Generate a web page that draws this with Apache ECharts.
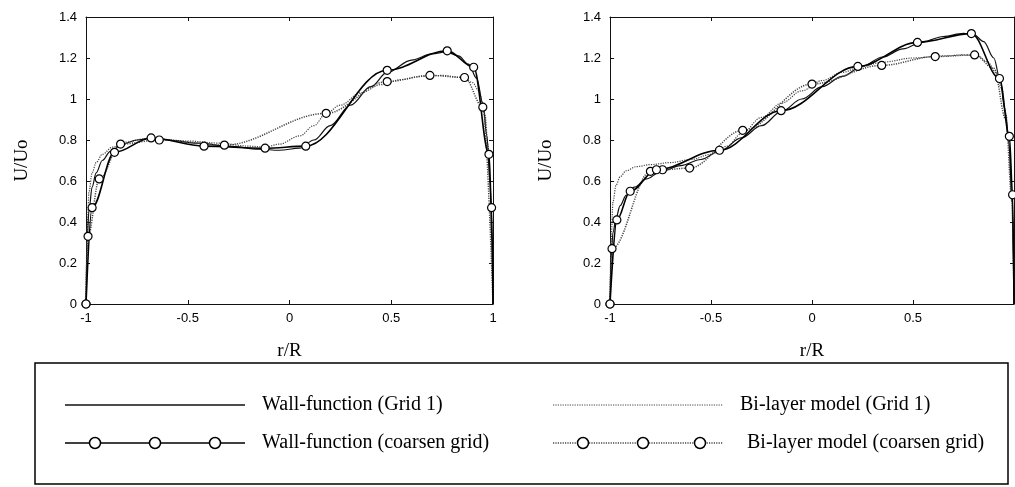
<!DOCTYPE html>
<html>
<head>
<meta charset="utf-8">
<script src="https://cdn.jsdelivr.net/npm/echarts@6/dist/echarts.min.js"></script>
<style>
html,body{margin:0;padding:0;background:#fff;}
#chart{width:1015px;height:487px;}
</style>
</head>
<body>
<div id="chart"></div>
<script>
// ---- Data ----
const seriesNames = ['Wall-function (Grid 1)', 'Wall-function (coarsen grid)', 'Bi-layer model (Grid 1)', 'Bi-layer model (coarsen grid)'];
const xAxisName = 'r/R';
const yAxisName = 'U/Uo';

// Left panel
const leftWallGrid1 = [[-1,0],[-0.995,0.3],[-0.985,0.46],[-0.97,0.57],[-0.95,0.64],[-0.92,0.7],[-0.88,0.745],[-0.82,0.78],[-0.75,0.8],[-0.68,0.81],[-0.6,0.8],[-0.45,0.785],[-0.3,0.77],[-0.15,0.755],[-0.05,0.75],[0.05,0.76],[0.12,0.8],[0.2,0.87],[0.3,0.97],[0.4,1.06],[0.48,1.13],[0.6,1.19],[0.7,1.22],[0.77,1.23],[0.83,1.21],[0.88,1.17],[0.92,1.1],[0.95,0.98],[0.97,0.82],[0.985,0.6],[0.995,0.3],[1,0]];
const leftWallCoarse = [[-1,0],[-0.97,0.47],[-0.86,0.74],[-0.68,0.81],[-0.42,0.77],[-0.12,0.76],[0.08,0.77],[0.48,1.14],[0.775,1.235],[0.905,1.155],[0.98,0.73],[0.993,0.47],[1,0]];
const leftBiGrid1 = [[-1,0],[-0.995,0.35],[-0.985,0.55],[-0.97,0.64],[-0.95,0.69],[-0.92,0.73],[-0.87,0.765],[-0.8,0.79],[-0.72,0.805],[-0.65,0.805],[-0.5,0.795],[-0.35,0.785],[-0.2,0.77],[-0.12,0.765],[-0.05,0.78],[0.05,0.82],[0.12,0.87],[0.18,0.93],[0.25,0.97],[0.35,1.03],[0.45,1.07],[0.55,1.095],[0.65,1.11],[0.75,1.115],[0.85,1.105],[0.9,1.08],[0.93,1.04],[0.96,0.93],[0.975,0.78],[0.985,0.6],[0.995,0.3],[1,0]];
const leftBiCoarse = [[-1,0],[-0.99,0.33],[-0.935,0.61],[-0.83,0.78],[-0.64,0.8],[-0.32,0.775],[0.18,0.93],[0.48,1.085],[0.69,1.115],[0.86,1.105],[0.95,0.96],[1,0]];

// Right panel
const rightWallGrid1 = [[-1,0],[-0.995,0.22],[-0.985,0.35],[-0.97,0.42],[-0.95,0.48],[-0.92,0.53],[-0.88,0.57],[-0.82,0.61],[-0.75,0.645],[-0.65,0.675],[-0.55,0.705],[-0.45,0.75],[-0.35,0.81],[-0.25,0.87],[-0.15,0.94],[-0.05,1.0],[0.05,1.06],[0.15,1.11],[0.25,1.16],[0.35,1.205],[0.45,1.245],[0.55,1.28],[0.65,1.305],[0.75,1.32],[0.8,1.315],[0.85,1.28],[0.9,1.2],[0.93,1.1],[0.955,0.95],[0.975,0.78],[0.99,0.5],[1,0]];
const rightWallCoarse = [[-1,0],[-0.966,0.41],[-0.9,0.55],[-0.77,0.655],[-0.458,0.75],[-0.153,0.943],[0.227,1.159],[0.522,1.276],[0.789,1.319],[0.928,1.1],[0.977,0.818],[0.993,0.533],[1,0]];
const rightBiGrid1 = [[-1,0],[-0.995,0.3],[-0.985,0.5],[-0.97,0.58],[-0.95,0.62],[-0.92,0.65],[-0.87,0.67],[-0.8,0.68],[-0.7,0.69],[-0.6,0.705],[-0.5,0.73],[-0.42,0.77],[-0.35,0.83],[-0.25,0.91],[-0.15,0.98],[-0.05,1.04],[0.05,1.09],[0.15,1.13],[0.25,1.16],[0.35,1.18],[0.5,1.2],[0.65,1.21],[0.75,1.215],[0.82,1.21],[0.87,1.18],[0.91,1.13],[0.94,1.05],[0.96,0.93],[0.975,0.78],[0.988,0.55],[0.997,0.25],[1,0]];
const rightBiCoarse = [[-1,0],[-0.99,0.27],[-0.8,0.647],[-0.74,0.655],[-0.606,0.663],[-0.343,0.847],[0,1.073],[0.345,1.164],[0.61,1.207],[0.805,1.215],[0.9,1.15],[0.96,0.9],[0.99,0.5],[1,0]];
// points of the coarse lines drawn without a circle marker (end points at the wall / line-only points)
const leftWallNoMark = [[1,0]];
const leftBiNoMark = [[1,0]];
const rightWallNoMark = [[1,0]];
const rightBiNoMark = [[0.9,1.15],[0.96,0.9],[0.99,0.5],[1,0]];

// ---- Build ----
const serif = '"Liberation Serif","Times New Roman",serif';
const sans = '"Liberation Sans",Arial,sans-serif';

function markData(arr, noMark){
  return arr.map(p => {
    const skip = noMark.some(q => q[0]===p[0] && q[1]===p[1]);
    return skip ? {value:p, symbol:'none'} : {value:p};
  });
}

const grids = [
  {left:86, top:17, width:407, height:287},
  {left:610, top:17, width:404, height:287}
];

const xAxes = [], yAxes = [];
grids.forEach((g, i) => {
  xAxes.push({
    type:'value', gridIndex:i, min:-1, max:1, interval:0.5, position:'bottom',
    name:xAxisName, nameLocation:'middle', nameGap:38,
    nameTextStyle:{fontFamily:serif, fontSize:19, color:'#000'},
    axisLine:{show:true, onZero:false, lineStyle:{color:'#111', width:1}},
    axisTick:{show:true, inside:true, length:4, lineStyle:{color:'#111'}},
    axisLabel:{fontFamily:sans, fontSize:13, color:'#000', margin:8, showMaxLabel: i===0},
    splitLine:{show:false}
  });
  xAxes.push({
    type:'value', gridIndex:i, min:-1, max:1, interval:0.5, position:'top',
    axisLine:{show:true, onZero:false, lineStyle:{color:'#111', width:1}},
    axisTick:{show:true, inside:true, length:4, lineStyle:{color:'#111'}},
    axisLabel:{show:false}, splitLine:{show:false}
  });
  yAxes.push({
    type:'value', gridIndex:i, min:0, max:1.4, interval:0.2, position:'left',
    name:yAxisName, nameLocation:'middle', nameGap:54,
    nameTextStyle:{fontFamily:serif, fontSize:19, color:'#000'},
    axisLine:{show:true, onZero:false, lineStyle:{color:'#111', width:1}},
    axisTick:{show:true, inside:true, length:4, lineStyle:{color:'#111'}},
    axisLabel:{fontFamily:sans, fontSize:13, color:'#000', margin:9},
    splitLine:{show:false}
  });
  yAxes.push({
    type:'value', gridIndex:i, min:0, max:1.4, interval:0.2, position:'right',
    axisLine:{show:true, onZero:false, lineStyle:{color:'#111', width:1}},
    axisTick:{show:true, inside:true, length:4, lineStyle:{color:'#111'}},
    axisLabel:{show:false}, splitLine:{show:false}
  });
});

function solidThin(name, data, gi){
  return {type:'line', name, xAxisIndex:gi*2, yAxisIndex:gi*2, data, smooth:0.35, smoothMonotone:'x',
    showSymbol:false, lineStyle:{color:'#111', width:1.2}, z:3};
}
function solidCoarse(name, data, gi){
  return {type:'line', name, xAxisIndex:gi*2, yAxisIndex:gi*2, data, smooth:0.35, smoothMonotone:'x',
    symbol:'circle', symbolSize:8, showAllSymbol:true,
    lineStyle:{color:'#000', width:1.6}, itemStyle:{color:'#fff', borderColor:'#000', borderWidth:1.2}, z:4};
}
function dotThin(name, data, gi){
  return {type:'line', name, xAxisIndex:gi*2, yAxisIndex:gi*2, data, smooth:0.35, smoothMonotone:'x',
    showSymbol:false, lineStyle:{color:'#444', width:1.2, type:[1.2,1.2]}, z:2};
}
function dotCoarse(name, data, gi){
  return {type:'line', name, xAxisIndex:gi*2, yAxisIndex:gi*2, data, smooth:0.35, smoothMonotone:'x',
    symbol:'circle', symbolSize:8, showAllSymbol:true,
    lineStyle:{color:'#444', width:1.5, type:[1.2,1.2]}, itemStyle:{color:'#fff', borderColor:'#000', borderWidth:1.2}, z:4};
}

const series = [
  dotThin(seriesNames[2], leftBiGrid1, 0),
  dotCoarse(seriesNames[3], markData(leftBiCoarse, leftBiNoMark), 0),
  solidThin(seriesNames[0], leftWallGrid1, 0),
  solidCoarse(seriesNames[1], markData(leftWallCoarse, leftWallNoMark), 0),
  dotThin(seriesNames[2], rightBiGrid1, 1),
  dotCoarse(seriesNames[3], markData(rightBiCoarse, rightBiNoMark), 1),
  solidThin(seriesNames[0], rightWallGrid1, 1),
  solidCoarse(seriesNames[1], markData(rightWallCoarse, rightWallNoMark), 1)
];

// Legend box drawn as graphic (long line samples with three circles)
const legendText = {fontFamily:serif, fontSize:20, fill:'#000'};
function circ(cx, cy){ return {type:'circle', shape:{cx, cy, r:5.5}, style:{fill:'#fff', stroke:'#000', lineWidth:1.5}, z:10}; }
const graphic = [
  {type:'rect', shape:{x:35, y:363, width:973, height:121}, style:{fill:'none', stroke:'#000', lineWidth:1.5}, z:5},
  {type:'line', shape:{x1:65, y1:405, x2:245, y2:405}, style:{stroke:'#111', lineWidth:1.3}, z:6},
  {type:'text', x:262, y:405, style:Object.assign({text:seriesNames[0], verticalAlign:'middle'}, legendText), z:6},
  {type:'line', shape:{x1:65, y1:443, x2:245, y2:443}, style:{stroke:'#000', lineWidth:1.6}, z:6},
  circ(95,443), circ(155,443), circ(215,443),
  {type:'text', x:262, y:443, style:Object.assign({text:seriesNames[1], verticalAlign:'middle'}, legendText), z:6},
  {type:'line', shape:{x1:553, y1:405, x2:723, y2:405}, style:{stroke:'#444', lineWidth:1.2, lineDash:[1.2,1.2]}, z:6},
  {type:'text', x:740, y:405, style:Object.assign({text:seriesNames[2], verticalAlign:'middle'}, legendText), z:6},
  {type:'line', shape:{x1:553, y1:443, x2:723, y2:443}, style:{stroke:'#444', lineWidth:1.4, lineDash:[1.2,1.2]}, z:6},
  circ(583,443), circ(643,443), circ(700,443),
  {type:'text', x:747, y:443, style:Object.assign({text:seriesNames[3], verticalAlign:'middle'}, legendText), z:6}
];

const chart = echarts.init(document.getElementById('chart'), null, {renderer:'canvas'});
chart.setOption({
  animation:false,
  backgroundColor:'#fff',
  grid:grids,
  xAxis:xAxes,
  yAxis:yAxes,
  series,
  graphic
});
</script>
</body>
</html>
